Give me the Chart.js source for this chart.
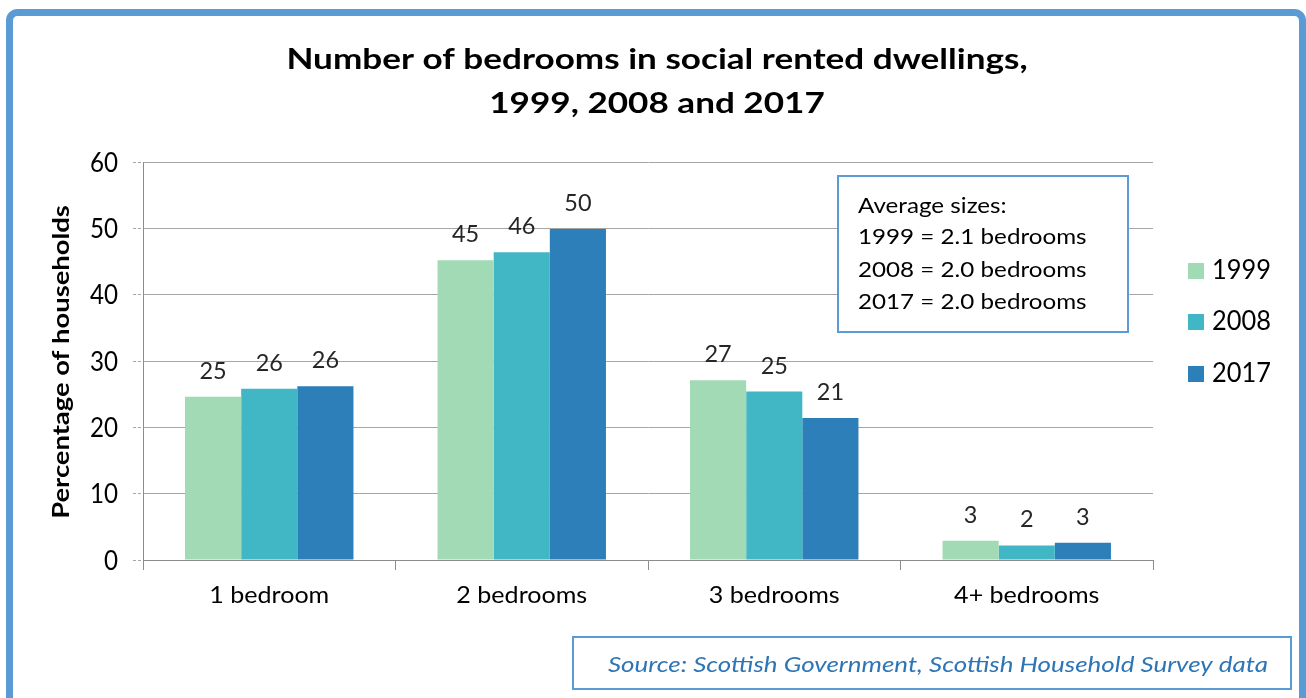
<!DOCTYPE html>
<html>
<head>
<meta charset="utf-8">
<script src="https://cdn.jsdelivr.net/npm/chart.js@4"></script>
<style>
  html, body { margin: 0; padding: 0; background: #ffffff; }
  #wrap { width: 1306px; height: 698px; position: relative; }
</style>
</head>
<body>
<div id="wrap"><canvas id="c" width="1306" height="698"></canvas></div>
<script>
const categories = ['1 bedroom', '2 bedrooms', '3 bedrooms', '4+ bedrooms'];
const seriesNames = ['1999', '2008', '2017'];
const values1999 = [24.6, 45.2, 27.1, 2.9];
const values2008 = [25.8, 46.4, 25.4, 2.2];
const values2017 = [26.2, 49.9, 21.4, 2.6];
const seriesColors = ['#a1dab4', '#41b6c4', '#2c7fb8'];
const yTicks = [0, 10, 20, 30, 40, 50, 60];
const titleLines = ['Number of bedrooms in social rented dwellings,', '1999, 2008 and 2017'];
const yAxisTitle = 'Percentage of households';
const noteLines = ['Average sizes:', '1999 = 2.1 bedrooms', '2008 = 2.0 bedrooms', '2017 = 2.0 bedrooms'];
const sourceText = 'Source: Scottish Government, Scottish Household Survey data';

const FONT = 'Lato, "Liberation Sans", sans-serif';
const BLUE = '#5b9bd5';

function stretchText(ctx, s, x, y, font, align, sx, color) {
  ctx.save();
  ctx.font = font;
  ctx.fillStyle = color || '#000000';
  ctx.textAlign = align;
  ctx.textBaseline = 'alphabetic';
  ctx.translate(x, y);
  ctx.scale(sx, 1);
  ctx.fillText(s, 0, 0);
  ctx.restore();
}

const decor = {
  id: 'decor',
  beforeDraw(chart) {
    const ctx = chart.ctx;
    ctx.save();
    ctx.fillStyle = '#ffffff';
    ctx.fillRect(0, 0, chart.width, chart.height);
    ctx.strokeStyle = BLUE;
    ctx.lineWidth = 7;
    ctx.beginPath();
    ctx.roundRect(9.5, 12.5, 1293, 740, 8);
    ctx.stroke();
    ctx.restore();
  },
  afterDraw(chart) {
    const ctx = chart.ctx;
    const xs = chart.scales.x, ys = chart.scales.y;
    // title
    stretchText(ctx, titleLines[0], 657, 69, 'bold 29px ' + FONT, 'center', 1.21);
    stretchText(ctx, titleLines[1], 657, 113, 'bold 29px ' + FONT, 'center', 1.21);
    // y axis title
    ctx.save();
    ctx.translate(69, 362);
    ctx.rotate(-Math.PI / 2);
    stretchText(ctx, yAxisTitle, 0, 0, 'bold 23px ' + FONT, 'center', 1.19);
    ctx.restore();
    // y tick labels
    yTicks.forEach(v => {
      stretchText(ctx, String(v), 118, ys.getPixelForValue(v) + 9.5, '26px ' + FONT, 'right', 0.93);
    });
    // x tick labels
    categories.forEach((c, i) => {
      stretchText(ctx, c, xs.getPixelForValue(i), 603, '23px ' + FONT, 'center', 1.09);
    });
    // data labels
    chart.data.datasets.forEach((ds, i) => {
      const meta = chart.getDatasetMeta(i);
      meta.data.forEach((bar, j) => {
        stretchText(ctx, String(Math.round(ds.data[j])), bar.x, bar.y - 18, '23px ' + FONT, 'center', 1.02, '#262626');
      });
    });
    // note box
    ctx.save();
    ctx.fillStyle = '#ffffff';
    ctx.fillRect(838, 176, 290, 156);
    ctx.strokeStyle = BLUE;
    ctx.lineWidth = 2;
    ctx.strokeRect(838, 176, 290, 156);
    ctx.restore();
    const noteBase = [213, 244, 277, 309];
    noteLines.forEach((t, k) => stretchText(ctx, t, 858, noteBase[k], '22px ' + FONT, 'left', 1.1));
    // legend
    const legBase = [279, 330, 382];
    seriesNames.forEach((n, k) => {
      ctx.save();
      ctx.fillStyle = seriesColors[k];
      ctx.fillRect(1188, legBase[k] - 16, 16, 16);
      ctx.restore();
      stretchText(ctx, n, 1212, legBase[k], '27px ' + FONT, 'left', 0.94);
    });
    // source box
    ctx.save();
    ctx.strokeStyle = BLUE;
    ctx.lineWidth = 2;
    ctx.strokeRect(573, 637, 718, 52);
    ctx.restore();
    stretchText(ctx, sourceText, 938, 672, 'italic 22px ' + FONT, 'center', 1.18, '#2e75b6');
  }
};

new Chart(document.getElementById('c'), {
  type: 'bar',
  data: {
    labels: categories,
    datasets: [
      { label: seriesNames[0], data: values1999, backgroundColor: seriesColors[0] },
      { label: seriesNames[1], data: values2008, backgroundColor: seriesColors[1] },
      { label: seriesNames[2], data: values2017, backgroundColor: seriesColors[2] }
    ]
  },
  options: {
    responsive: false,
    animation: false,
    devicePixelRatio: 1,
    layout: { padding: { left: 0, top: 162, right: 153, bottom: 98 } },
    datasets: { bar: { categoryPercentage: 0.667, barPercentage: 1.0 } },
    plugins: { legend: { display: false }, tooltip: { enabled: false }, title: { display: false } },
    scales: {
      x: {
        afterFit(s) { s.height = 40; },
        grid: { display: true, drawOnChartArea: false, drawTicks: true, tickLength: 10, color: '#8c8c8c', offset: true },
        border: { display: true, color: '#8c8c8c', width: 1 },
        ticks: { font: { family: FONT, size: 20 }, color: 'rgba(0,0,0,0)', padding: 12 }
      },
      y: {
        min: 0, max: 60,
        afterFit(s) { s.width = 143; },
        afterBuildTicks(s) { s.ticks = yTicks.map(v => ({ value: v })); },
        grid: { color: '#a6a6a6', tickLength: 10, borderDash: [3, 2], tickBorderDash: [3, 2] },
        border: { display: true, color: '#8c8c8c', width: 1 },
        ticks: { font: { family: FONT, size: 22 }, color: 'rgba(0,0,0,0)', padding: 14 }
      }
    }
  },
  plugins: [decor]
});
</script>
</body>
</html>
